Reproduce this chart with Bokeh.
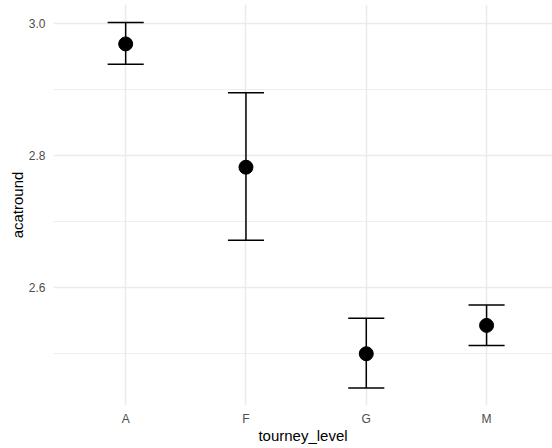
from bokeh.plotting import figure
from bokeh.models import ColumnDataSource, FixedTicker, Range1d
from bokeh.embed import file_html
from bokeh.resources import INLINE

categories = ["A", "F", "G", "M"]
mean_vals = [2.969, 2.782, 2.499, 2.542]
upper_vals = [3.0015, 2.895, 2.553, 2.573]
lower_vals = [2.938, 2.671, 2.447, 2.5115]
y_ticks = [2.6, 2.8, 3.0]
y_minor = [2.5, 2.7, 2.9]

xs = list(range(1, len(categories) + 1))
cap_half = 0.15
src = ColumnDataSource(dict(
    x=xs, y=mean_vals, up=upper_vals, lo=lower_vals,
    x0=[x - cap_half for x in xs], x1=[x + cap_half for x in xs],
))

FONT = "Liberation Sans"
p = figure(width=552, height=448, output_backend="svg", toolbar_location=None,
           x_range=Range1d(0.4, 4.548), y_range=Range1d(2.4205, 3.0288),
           min_border_left=53, min_border_bottom=43, min_border_top=4, min_border_right=0)
p.outline_line_color = None
p.background_fill_color = "white"

# error bars
p.segment(x0="x", y0="lo", x1="x", y1="up", source=src, line_color="black", line_width=1.5)
p.segment(x0="x0", y0="up", x1="x1", y1="up", source=src, line_color="black", line_width=1.5)
p.segment(x0="x0", y0="lo", x1="x1", y1="lo", source=src, line_color="black", line_width=1.5)
p.scatter(x="x", y="y", source=src, size=14, fill_color="black", line_color="black")

p.xaxis.ticker = FixedTicker(ticks=xs)
p.xaxis.major_label_overrides = {x: c for x, c in zip(xs, categories)}
p.yaxis.ticker = FixedTicker(ticks=y_ticks, minor_ticks=y_minor)
p.yaxis.major_label_overrides = {t: f"{t:.1f}" for t in y_ticks}

for ax in (p.xaxis, p.yaxis):
    ax.axis_line_color = None
    ax.major_tick_line_color = None
    ax.minor_tick_line_color = None
    ax.major_tick_out = 0
    ax.major_tick_in = 0
    ax.minor_tick_out = 0
    ax.minor_tick_in = 0
    ax.major_label_text_font = FONT
    ax.major_label_text_font_size = "12px"
    ax.major_label_text_color = "#4d4d4d"
    ax.axis_label_text_font = FONT
    ax.axis_label_text_font_size = "15px"
    ax.axis_label_text_font_style = "normal"
    ax.axis_label_text_color = "black"

p.xaxis.axis_label = "tourney_level"
p.yaxis.axis_label = "acatround"
p.xaxis.major_label_standoff = 6
p.xaxis.axis_label_standoff = -2
p.yaxis.major_label_standoff = 8
p.yaxis.axis_label_standoff = 0

p.xgrid.grid_line_color = "#ebebeb"
p.xgrid.grid_line_width = 1.5
p.ygrid.grid_line_color = "#ebebeb"
p.ygrid.grid_line_width = 1.5
p.ygrid.minor_grid_line_color = "#ebebeb"
p.ygrid.minor_grid_line_width = 0.8

open("out.html", "w").write(file_html(p, INLINE))
